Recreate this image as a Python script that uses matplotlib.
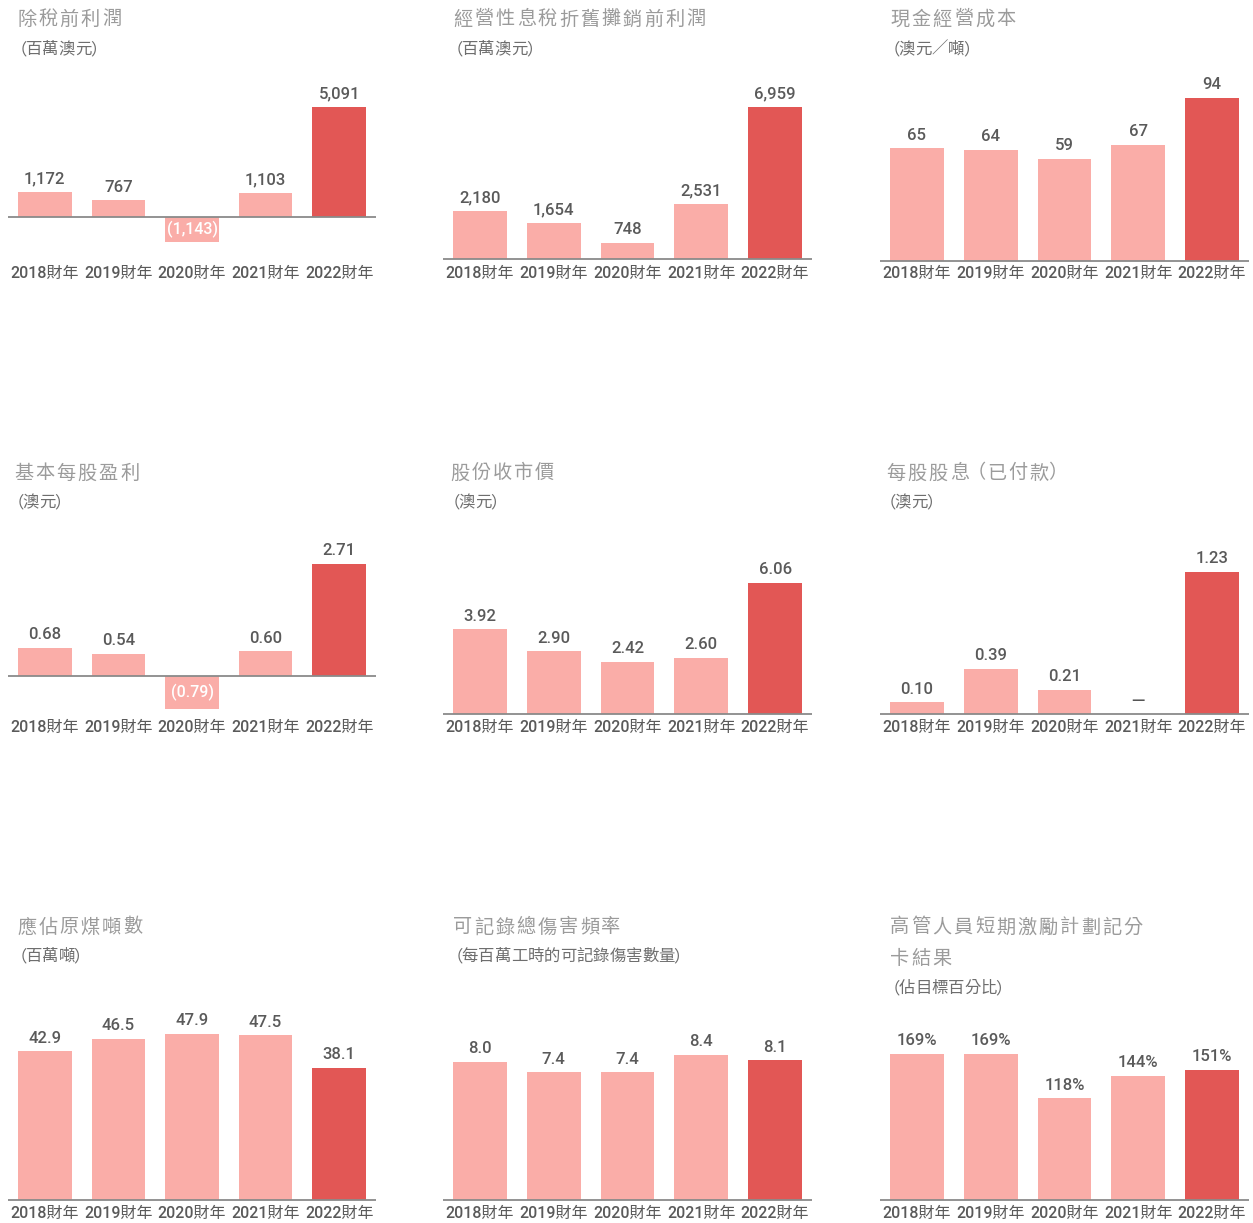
import matplotlib
matplotlib.use("Agg")
import matplotlib.pyplot as plt
from matplotlib.transforms import blended_transform_factory

plt.rcParams['font.family'] = ['Roboto', 'Noto Sans CJK TC', 'DejaVu Sans']

years = ["2018財年", "2019財年", "2020財年", "2021財年", "2022財年"]

titles = [
    ["除稅前利潤"], ["經營性息稅折舊攤銷前利潤"], ["現金經營成本"],
    ["基本每股盈利"], ["股份收市價"], ["每股股息（已付款）"],
    ["應佔原煤噸數"], ["可記錄總傷害頻率"], ["高管人員短期激勵計劃記分", "卡結果"],
]
subtitles = [
    "（百萬澳元）", "（百萬澳元）", "（澳元／噸）",
    "（澳元）", "（澳元）", "（澳元）",
    "（百萬噸）", "（每百萬工時的可記錄傷害數量）", "（佔目標百分比）",
]

profit_before_tax = [1172, 767, -1143, 1103, 5091]
ebitda = [2180, 1654, 748, 2531, 6959]
cash_cost = [65, 64, 59, 67, 94]
basic_eps = [0.68, 0.54, -0.79, 0.60, 2.71]
share_price = [3.92, 2.90, 2.42, 2.60, 6.06]
dividends = [0.10, 0.39, 0.21, 0, 1.23]
coal_tonnes = [42.9, 46.5, 47.9, 47.5, 38.1]
trifr = [8.0, 7.4, 7.4, 8.4, 8.1]
stip = [169, 169, 118, 144, 151]

series = [profit_before_tax, ebitda, cash_cost,
          basic_eps, share_price, dividends,
          coal_tonnes, trifr, stip]


def fmt_int(v):
    s = "{:,}".format(abs(int(v)))
    return "({})".format(s) if v < 0 else s


def fmt_2(v):
    if v == 0:
        return "—"
    s = "{:.2f}".format(abs(v))
    return "({})".format(s) if v < 0 else s


def fmt_1(v):
    return "{:.1f}".format(v)


def fmt_pct(v):
    return "{}%".format(int(v))


formatters = [fmt_int, fmt_int, fmt_int,
              fmt_2, fmt_2, fmt_2,
              fmt_1, fmt_1, fmt_pct]

LIGHT = "#FAADA8"
DARK = "#E25755"
W, H = 1253, 1223

# layout in pixels
col_x = [(8, 376), (443, 812), (880, 1249)]
baselines = [[217, 259, 261], [676, 714, 714], [1200, 1200, 1200]]
max_tops = [[107, 107, 98], [564, 583, 572], [1034, 1055, 1054]]
tick_y = [273, 727, 1213]
title_y = [19, 473, 927]
sub_y = [49.5, 502.5, 956.5]
title_x = [[17, 453, 890], [14, 450, 886], [17, 453, 890]]

fig = plt.figure(figsize=(W / 100, H / 100), dpi=100)


def spaced_text(x, y, s, adv, **kw):
    # CJK text with letter spacing; brackets get a narrower cell
    for ch in s:
        if ch == "（":
            cx, step = x + 0.3 * adv, 0.75 * adv
        elif ch == "）":
            cx, step = x + 0.4 * adv, 0.75 * adv
        else:
            cx, step = x + adv / 2, adv
        fig.text(cx / W, 1 - y / H, ch, ha="center", va="center", **kw)
        x += step


for i, vals in enumerate(series):
    r, c = divmod(i, 3)
    x0, x1 = col_x[c]
    base = baselines[r][c]
    scale = (base - max_tops[r][c]) / max(vals)  # px per unit
    up, down = 220, 45
    ax = fig.add_axes([x0 / W, 1 - (base + down) / H, (x1 - x0) / W, (up + down) / H])
    ax.set_xlim(-0.5, 4.5)
    ax.set_ylim(-down / scale, up / scale)
    ax.axis("off")

    colors = [LIGHT] * 4 + [DARK]
    ax.bar(range(5), vals, width=0.73, color=colors, zorder=2)
    ax.axhline(0, color="#8a8a8a", lw=1.3, zorder=3)

    fmt = formatters[i]
    for j, v in enumerate(vals):
        lab = fmt(v)
        if v < 0:
            ax.text(j, v / 2, lab, ha="center", va="center", color="white",
                    fontsize=11.5, fontweight="medium", zorder=4)
        elif v == 0:
            ax.annotate(lab, (j, 0), xytext=(0, 9.4), textcoords="offset points",
                        ha="center", va="center", color="#555555", fontsize=9.5,
                        fontweight="bold", family=["DejaVu Sans"])
        else:
            ax.annotate(lab, (j, v), xytext=(0, 4), textcoords="offset points",
                        ha="center", va="bottom", color="#5a5a5a", fontsize=12,
                        fontweight="medium")

    tr = blended_transform_factory(ax.transData, fig.transFigure)
    for j, y in enumerate(years):
        ax.text(j, 1 - tick_y[r] / H, y, transform=tr, ha="center", va="center",
                color="#5a5a5a", fontsize=11.5, fontweight="medium", clip_on=False)

    tx = title_x[r][c]
    ty = title_y[r]
    for k, line in enumerate(titles[i]):
        spaced_text(tx - 1, ty + 32 * k, line, 21.2, color="#9b9b9b",
                    fontsize=13.8, family=["Noto Sans CJK TC"])
    sy = sub_y[r] + 32 * (len(titles[i]) - 1)
    spaced_text(tx - 3.5, sy, subtitles[i], 16.4, color="#6e6e6e",
                fontsize=11.8, family=["Noto Sans CJK TC"])

fig.savefig("out.png", dpi=100, facecolor="white")
